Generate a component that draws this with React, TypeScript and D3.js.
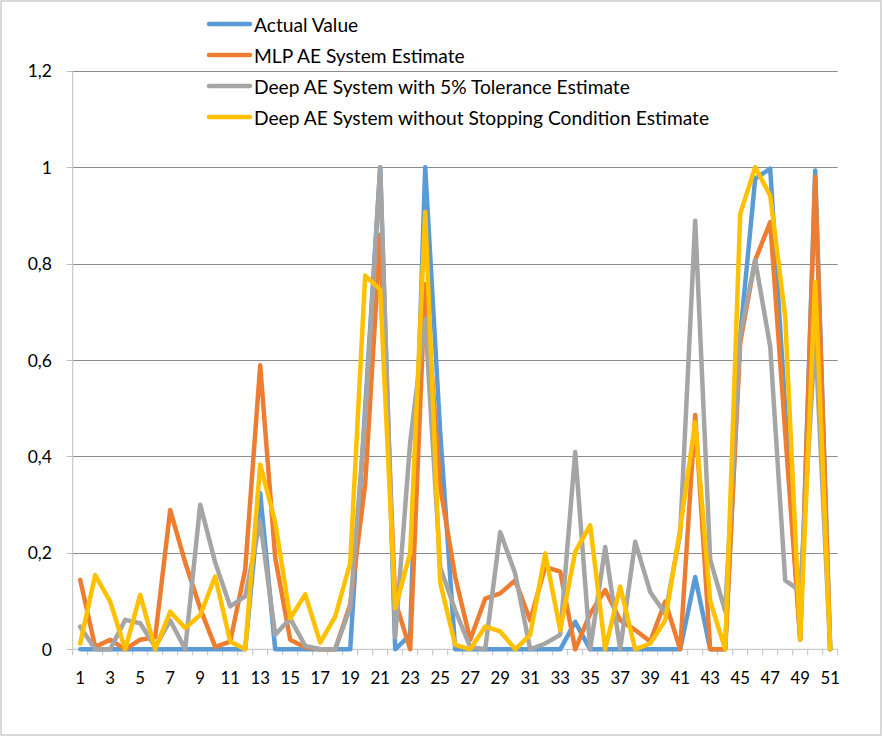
import React, { useEffect, useRef } from "react";
import * as d3 from "d3";

const categories = d3.range(1, 52);

const actualValue = [0,0,0,0,0,0,0,0,0,0,0,0,0.324,0,0,0,0,0,0,0.5,1.0,0,0.03,1.0,0.45,0,0,0,0,0,0,0,0,0.057,0,0,0,0,0,0,0,0.15,0,0,0.65,0.976,0.997,0.5,0.02,0.993,0];
const mlpEstimate = [0.144,0.005,0.02,0,0.02,0.025,0.289,0.18,0.085,0.005,0.016,0.165,0.589,0.19,0.02,0.004,0,0,0.093,0.343,0.86,0.1,0,0.757,0.337,0.15,0.02,0.105,0.116,0.143,0.06,0.171,0.161,0,0.074,0.123,0.06,0.04,0.016,0.099,0,0.486,0,0,0.636,0.807,0.886,0.45,0.02,0.98,0];
const deepTolEstimate = [0.047,0,0,0.061,0.054,0.005,0.06,0,0.3,0.18,0.089,0.11,0.265,0.03,0.064,0.007,0,0,0.086,0.48,1.0,0.025,0.43,0.686,0.17,0.081,0.005,0,0.243,0.157,0,0.012,0.03,0.409,0,0.212,0,0.223,0.119,0.074,0.24,0.889,0.186,0.079,0.65,0.807,0.628,0.143,0.121,0.65,0];
const deepNoStopEstimate = [0.012,0.154,0.099,0,0.113,0,0.078,0.044,0.071,0.151,0.016,0,0.383,0.264,0.064,0.114,0.014,0.068,0.179,0.775,0.746,0.085,0.2,0.907,0.138,0.009,0,0.047,0.037,0,0.03,0.199,0.04,0.202,0.257,0,0.13,0,0.012,0.06,0.25,0.471,0.1,0,0.903,1.0,0.941,0.69,0.02,0.762,0];

const seriesNames = [
  "Actual Value",
  "MLP AE System Estimate",
  "Deep AE System with 5% Tolerance Estimate",
  "Deep AE System without Stopping Condition Estimate",
];
const seriesColors = ["#5B9BD5", "#ED7D31", "#A5A5A5", "#FFC000"];
const seriesValues = [actualValue, mlpEstimate, deepTolEstimate, deepNoStopEstimate];

const yTicks = [0, 0.2, 0.4, 0.6, 0.8, 1, 1.2];
const xTickLabels = categories.filter((c) => c % 2 === 1);

const W = 883;
const H = 737;
const FONT = "Lato, 'Open Sans', sans-serif";

export default function App() {
  const ref = useRef<SVGSVGElement>(null);

  useEffect(() => {
    const svg = d3.select(ref.current);
    svg.selectAll("*").remove();

    const left = 72.7, right = 837.7, top = 70.7, bottom = 649.3;
    const x = d3.scaleBand<number>().domain(categories).range([left, right]);
    const y = d3.scaleLinear().domain([0, 1.2]).range([bottom, top]);
    const cx = (c: number) => (x(c) as number) + x.bandwidth() / 2;

    svg.append("rect")
      .attr("x", 1).attr("y", 1).attr("width", W - 3).attr("height", H - 3)
      .attr("fill", "#fff").attr("stroke", "#b3b3b3").attr("stroke-width", 1);

    // gridlines
    svg.append("g").selectAll("line").data(yTicks.filter((t) => t > 0)).join("line")
      .attr("x1", left).attr("x2", right)
      .attr("y1", (d) => Math.round(y(d)) + 0.5).attr("y2", (d) => Math.round(y(d)) + 0.5)
      .attr("stroke", "#8c8c8c").attr("stroke-width", 1);

    // y axis
    svg.append("line").attr("x1", left).attr("x2", left).attr("y1", top).attr("y2", bottom)
      .attr("stroke", "#bfbfbf").attr("stroke-width", 1);
    svg.append("g").selectAll("line").data(yTicks).join("line")
      .attr("x1", left - 6).attr("x2", left)
      .attr("y1", (d) => Math.round(y(d)) + 0.5).attr("y2", (d) => Math.round(y(d)) + 0.5)
      .attr("stroke", "#bfbfbf");
    svg.append("g").selectAll("text").data(yTicks).join("text")
      .attr("x", 52).attr("y", (d) => y(d))
      .attr("text-anchor", "end").attr("dominant-baseline", "central")
      .attr("font-family", FONT).attr("font-size", 17.5).attr("fill", "#000")
      .text((d) => String(d).replace(".", ","));

    // x axis
    svg.append("line").attr("x1", left).attr("x2", right).attr("y1", bottom).attr("y2", bottom)
      .attr("stroke", "#bfbfbf").attr("stroke-width", 1);
    const boundaries = categories.map((c) => x(c) as number).concat([right]);
    svg.append("g").selectAll("line").data(boundaries).join("line")
      .attr("x1", (d) => d).attr("x2", (d) => d).attr("y1", bottom).attr("y2", bottom + 6)
      .attr("stroke", "#bfbfbf");
    svg.append("g").selectAll("text").data(xTickLabels).join("text")
      .attr("x", (d) => cx(d)).attr("y", 684)
      .attr("text-anchor", "middle")
      .attr("font-family", FONT).attr("font-size", 16.8).attr("fill", "#000")
      .text((d) => String(d));

    // lines
    const line = d3.line<number>().x((_, i) => cx(categories[i])).y((d) => y(d));
    svg.append("g").selectAll("path").data(seriesValues).join("path")
      .attr("d", (d) => line(d))
      .attr("fill", "none")
      .attr("stroke", (_, i) => seriesColors[i])
      .attr("stroke-width", 4.5)
      .attr("stroke-linejoin", "round")
      .attr("stroke-linecap", "round");

    // legend
    const lg = svg.append("g");
    const rows = lg.selectAll("g").data(seriesNames).join("g")
      .attr("transform", (_, i) => `translate(0, ${24 + i * 31})`);
    rows.append("line").attr("x1", 209).attr("x2", 250).attr("y1", 0).attr("y2", 0)
      .attr("stroke", (_, i) => seriesColors[i]).attr("stroke-width", 4.5).attr("stroke-linecap", "round");
    rows.append("text").attr("x", 254).attr("y", 0).attr("dominant-baseline", "central")
      .attr("font-family", FONT).attr("font-size", 19.2).attr("fill", "#000")
      .text((d) => d);
  }, []);

  return (
    <svg ref={ref} width={W} height={H} style={{ position: "absolute", left: 0, top: 0 }} />
  );
}
